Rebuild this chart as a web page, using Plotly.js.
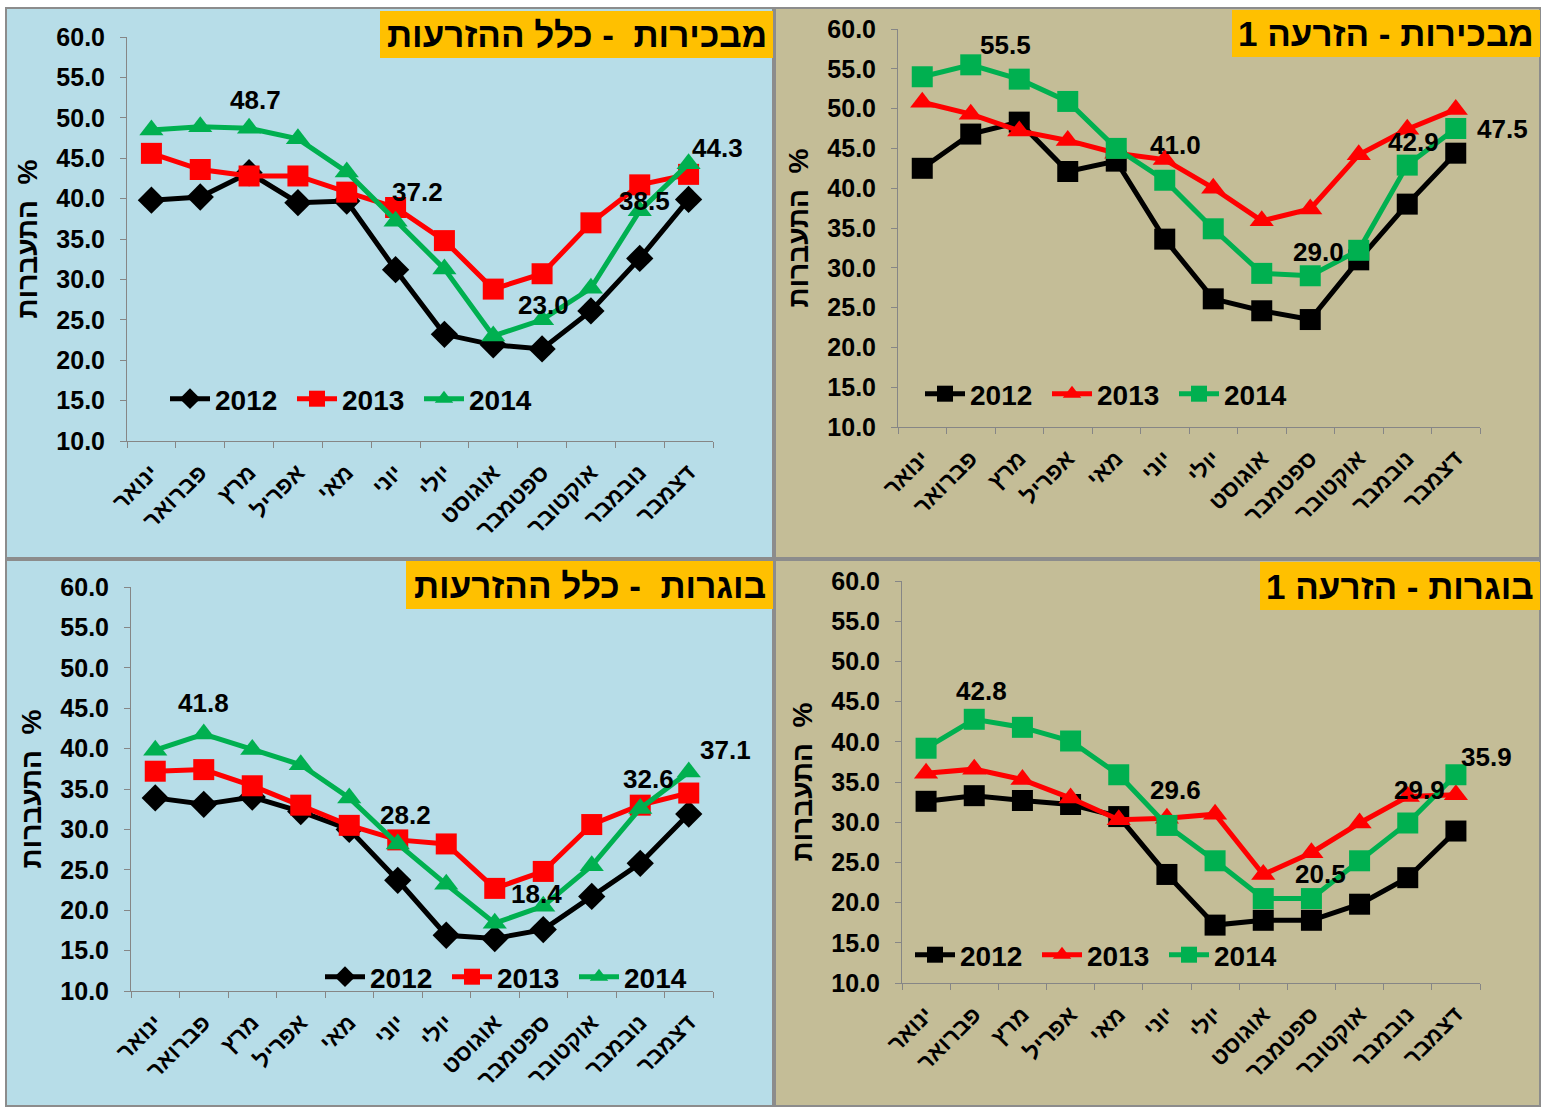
<!DOCTYPE html>
<html>
<head>
<meta charset="utf-8">
<script src="https://cdn.plot.ly/plotly-3.0.1.min.js"></script>
<style>
  html, body { margin: 0; padding: 0; background: #ffffff; }
  #chart { width: 1542px; height: 1108px; }
</style>
</head>
<body>
<div id="chart"></div>
<script>
// ---------- DATA ----------
const months = ['ינואר','פברואר','מרץ','אפריל','מאי','יוני','יולי','אוגוסט','ספטמבר','אוקטובר','נובמבר','דצמבר'];
const years = ['2012', '2013', '2014'];

const panelTitles = ['מבכירות  - כלל ההזרעות', 'מבכירות - הזרעה 1', 'בוגרות  - כלל ההזרעות', 'בוגרות - הזרעה 1'];
const yTitle = 'התעברות  %';

// Top-left: מבכירות - כלל ההזרעות
const p1_2012 = [39.8, 40.2, 43.2, 39.5, 39.7, 31.2, 23.2, 21.9, 21.4, 26.1, 32.6, 39.9];
const p1_2013 = [45.6, 43.6, 42.8, 42.8, 40.8, 38.9, 34.8, 28.8, 30.7, 37.0, 41.7, 43.0];
const p1_2014 = [48.5, 48.9, 48.7, 47.4, 43.3, 37.2, 31.3, 23.0, 25.0, 28.9, 38.5, 44.3];

// Top-right: מבכירות - הזרעה 1
const p2_2012 = [42.5, 46.8, 48.3, 42.1, 43.4, 33.6, 26.1, 24.6, 23.5, 31.0, 38.0, 44.4];
const p2_2013 = [50.8, 49.3, 47.2, 46.0, 44.4, 43.6, 40.0, 35.9, 37.4, 44.2, 47.4, 49.9];
const p2_2014 = [54.0, 55.5, 53.7, 50.9, 45.0, 41.0, 34.9, 29.3, 29.0, 32.2, 42.9, 47.5];

// Bottom-left: בוגרות - כלל ההזרעות
const p3_2012 = [33.9, 33.1, 34.0, 32.2, 30.0, 23.7, 16.9, 16.5, 17.6, 21.7, 25.8, 31.9];
const p3_2013 = [37.2, 37.4, 35.4, 33.0, 30.5, 28.7, 28.2, 22.7, 24.8, 30.6, 33.0, 34.5];
const p3_2014 = [39.8, 41.8, 39.9, 38.0, 33.9, 28.2, 23.2, 18.4, 20.5, 25.5, 32.6, 37.1];

// Bottom-right: בוגרות - הזרעה 1
const p4_2012 = [32.6, 33.3, 32.7, 32.2, 30.7, 23.5, 17.2, 17.8, 17.8, 19.8, 23.1, 28.9];
const p4_2013 = [36.1, 36.6, 35.3, 33.0, 30.3, 30.5, 31.0, 23.5, 26.2, 29.9, 33.2, 33.4];
const p4_2014 = [39.2, 42.8, 41.8, 40.1, 35.9, 29.6, 25.2, 20.5, 20.5, 25.2, 29.9, 35.9];

// months (index) whose 2014 value is labelled
const p1_labelIdx = [2, 5, 7, 10, 11];
const p2_labelIdx = [1, 5, 8, 10, 11];
const p3_labelIdx = [1, 5, 7, 10, 11];
const p4_labelIdx = [1, 5, 8, 10, 11];

// ---------- STYLE / LAYOUT ----------
const W = 1542, H = 1108;
const px = v => v / W;
const py = v => 1 - v / H;
const FONT = 'Liberation Sans, Arial, sans-serif';
const BLUE = '#B7DDE8', TAN = '#C4BD97', ORANGE = '#FFC000';
const C = { '2012': '#000000', '2013': '#FF0000', '2014': '#00B050' };
const SYMSIZE = { 'diamond': 21, 'square': 21, 'triangle-up': 21 };

const panels = [
  { s: [p1_2012, p1_2013, p1_2014], sym: ['diamond', 'square', 'triangle-up'], labels: p1_labelIdx,
    shifts: [[6, 28], [22, 29], [50, 31], [5, 10], [29, 16]],
    plot: [127, 37, 713, 441], bg: [6, 8, 773, 558], bgc: BLUE, tbox: [380, 11, 773, 58],
    leg: [165, 399] },
  { s: [p2_2012, p2_2013, p2_2014], sym: ['square', 'triangle-up', 'square'], labels: p2_labelIdx,
    shifts: [[35, 20], [11, 35], [8, 24], [6, 23], [47, 0]],
    plot: [898, 29, 1480, 427], bg: [775, 8, 1540, 558], bgc: TAN, tbox: [1232, 10, 1540, 57],
    leg: [920, 394] },
  { s: [p3_2012, p3_2013, p3_2014], sym: ['diamond', 'square', 'triangle-up'], labels: p3_labelIdx,
    shifts: [[0, 31], [8, 29], [42, 29], [8, 29], [37, 22]],
    plot: [131, 587, 713, 991], bg: [6, 560, 773, 1106], bgc: BLUE, tbox: [406, 561, 773, 609],
    leg: [320, 977] },
  { s: [p4_2012, p4_2013, p4_2014], sym: ['square', 'triangle-up', 'square'], labels: p4_labelIdx,
    shifts: [[7, 28], [9, 35], [9, 25], [12, 33], [31, 18]],
    plot: [902, 581, 1480, 983], bg: [775, 560, 1540, 1106], bgc: TAN, tbox: [1260, 562, 1540, 610],
    leg: [910, 955] }
];

const traces = [];
const shapes = [];
const annotations = [];
const layout = {
  width: W, height: H,
  margin: { l: 0, r: 0, t: 0, b: 0 },
  paper_bgcolor: '#ffffff',
  plot_bgcolor: '#ffffff',
  font: { family: FONT, color: '#000000', size: 22, weight: 'bold' },
  showlegend: true
};

panels.forEach((p, i) => {
  const n = i + 1;
  const xa = 'x' + (n === 1 ? '' : n), ya = 'y' + (n === 1 ? '' : n);
  const xk = 'xaxis' + (n === 1 ? '' : n), yk = 'yaxis' + (n === 1 ? '' : n);
  const lk = 'legend' + (n === 1 ? '' : n);

  // panel background
  shapes.push({ type: 'rect', xref: 'paper', yref: 'paper', layer: 'below',
    x0: px(p.bg[0]), x1: px(p.bg[2]), y0: py(p.bg[3]), y1: py(p.bg[1]),
    fillcolor: p.bgc, line: { color: '#8C8C8C', width: 2 } });

  layout[xk] = {
    domain: [px(p.plot[0]), px(p.plot[2])], anchor: ya,
    type: 'category', range: [-0.5, 11.5],
    showline: true, linecolor: '#868686', linewidth: 1,
    ticks: 'outside', tickson: 'boundaries', ticklen: 6, tickcolor: '#868686',
    showgrid: false, zeroline: false, tickangle: -45, ticklabelstandoff: 8,
    tickfont: { family: FONT, size: 23, weight: 'bold', color: '#000' }
  };
  layout[yk] = {
    domain: [py(p.plot[3]), py(p.plot[1])], anchor: xa,
    range: [10, 60], dtick: 5, tick0: 10, tickformat: '.1f',
    showline: true, linecolor: '#868686', linewidth: 1,
    ticks: 'outside', ticklen: 6, tickcolor: '#868686', ticklabelstandoff: 10,
    showgrid: false, zeroline: false,
    tickfont: { family: FONT, size: 25, weight: 'bold', color: '#000' },
    title: { text: yTitle, standoff: 10, font: { family: FONT, size: 28, weight: 'bold', color: '#000' } }
  };

  years.forEach((yr, k) => {
    traces.push({
      type: 'scatter', mode: 'lines+markers', name: yr,
      x: months, y: p.s[k], xaxis: xa, yaxis: ya, legend: lk,
      line: { color: C[yr], width: 5 },
      marker: { symbol: p.sym[k], size: SYMSIZE[p.sym[k]], color: C[yr], line: { width: 0 } },
      hoverinfo: 'y'
    });
  });

  layout[lk] = {
    orientation: 'h', x: px(p.leg[0]), y: py(p.leg[1]), xanchor: 'left', yanchor: 'middle',
    xref: 'paper', yref: 'paper',
    bgcolor: 'rgba(0,0,0,0)', borderwidth: 0,
    font: { family: FONT, size: 28, weight: 'bold', color: '#000' },
    itemwidth: 40, entrywidth: 72, traceorder: 'normal'
  };

  // 2014 value labels
  p.labels.forEach((idx, j) => {
    annotations.push({
      xref: xa, yref: ya, x: months[idx], y: p.s[2][idx],
      text: p.s[2][idx].toFixed(1), showarrow: false,
      xshift: p.shifts[j][0], yshift: p.shifts[j][1],
      font: { family: FONT, size: 26, weight: 'bold', color: '#000' }
    });
  });

  // title box
  shapes.push({ type: 'rect', xref: 'paper', yref: 'paper', layer: 'above',
    x0: px(p.tbox[0]), x1: px(p.tbox[2]), y0: py(p.tbox[3]), y1: py(p.tbox[1]),
    fillcolor: ORANGE, line: { width: 0 } });
  annotations.push({
    xref: 'paper', yref: 'paper',
    x: px((p.tbox[0] + p.tbox[2]) / 2), y: py((p.tbox[1] + p.tbox[3]) / 2),
    xanchor: 'center', yanchor: 'middle', showarrow: false,
    text: panelTitles[i],
    font: { family: FONT, size: 35, weight: 'bold', color: '#000' }
  });
});

layout.shapes = shapes;
layout.annotations = annotations;

Plotly.newPlot('chart', traces, layout, { displayModeBar: false, responsive: false });
</script>
</body>
</html>
